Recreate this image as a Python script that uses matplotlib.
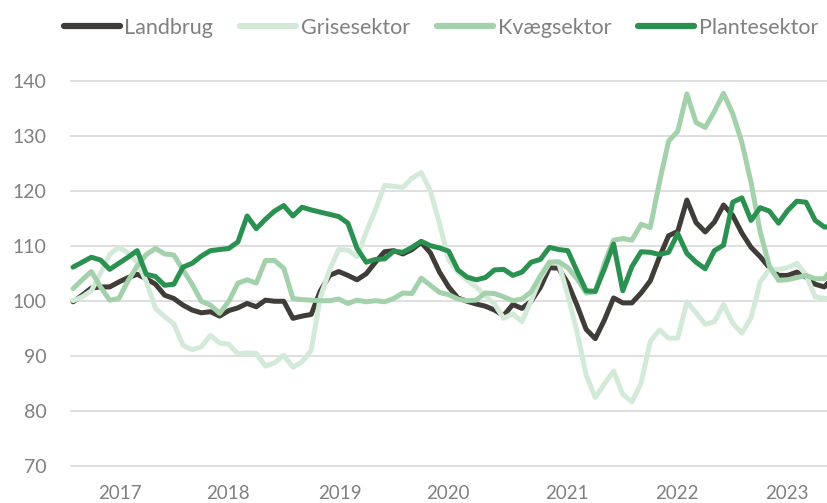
import numpy as np
import matplotlib
matplotlib.use("Agg")
from matplotlib import pyplot as plt

# Månedlige indeks, jan 2017 - dec 2023 (sidste punkt skæres af ved højre kant)
landbrug = [
    99.8, 101.0, 102.3, 102.5, 102.5, 103.4, 104.2, 104.8, 104.0, 103.0, 101.0, 100.4,
    99.2, 98.3, 97.8, 98.0, 97.2, 98.2, 98.7, 99.5, 98.9, 100.1, 99.9, 99.9,
    96.8, 97.2, 97.5, 101.8, 104.6, 105.3, 104.6, 103.8, 104.9, 107.0, 108.9, 109.1,
    108.5, 109.3, 110.6, 108.7, 105.2, 102.5, 100.5, 99.9, 99.4, 99.0, 98.3, 97.3,
    99.3, 98.6, 99.9, 102.4, 106.0, 105.9, 103.2, 99.2, 94.8, 93.1, 96.5, 100.5,
    99.6, 99.6, 101.4, 103.6, 107.9, 111.8, 112.6, 118.3, 114.2, 112.5, 114.3, 117.4,
    115.5, 112.3, 109.7, 108.0, 106.0, 104.6, 104.6, 105.2, 104.3, 103.0, 102.5, 104.3,
]
grisesektor = [
    100.0, 100.7, 101.8, 105.0, 108.4, 109.7, 108.7, 107.0, 103.5, 98.6, 97.1, 95.8,
    91.9, 91.1, 91.6, 93.7, 92.3, 92.1, 90.3, 90.5, 90.4, 88.1, 88.7, 90.1,
    87.9, 88.9, 91.0, 100.7, 105.6, 109.3, 109.2, 108.0, 112.5, 116.5, 121.0, 120.8,
    120.6, 122.3, 123.3, 120.0, 114.0, 107.4, 105.2, 103.7, 102.5, 100.9, 99.4, 96.8,
    97.6, 96.2, 100.0, 104.0, 106.9, 106.9, 101.0, 94.4, 86.5, 82.4, 84.9, 87.2,
    83.0, 81.6, 85.0, 92.6, 94.7, 93.2, 93.2, 99.8, 97.8, 95.7, 96.2, 99.3,
    95.9, 94.1, 96.9, 103.4, 105.7, 105.7, 106.0, 106.8, 104.7, 100.7, 100.4, 100.4,
]
kvaegsektor = [
    102.2, 103.8, 105.3, 102.5, 100.1, 100.4, 103.6, 106.3, 108.4, 109.5, 108.5, 108.3,
    105.6, 103.0, 99.9, 99.2, 97.7, 99.9, 103.2, 103.8, 103.2, 107.3, 107.3, 105.9,
    100.4, 100.2, 100.1, 100.0, 100.0, 100.3, 99.5, 100.1, 99.8, 100.0, 99.8, 100.4,
    101.4, 101.3, 104.1, 102.8, 101.5, 101.1, 100.3, 100.0, 100.1, 101.4, 101.3, 100.7,
    100.0, 100.3, 101.6, 104.5, 107.0, 107.1, 106.0, 104.0, 101.4, 101.6, 106.8, 111.0,
    111.3, 111.0, 113.9, 113.3, 121.5, 129.0, 130.8, 137.6, 132.4, 131.5, 134.4, 137.7,
    134.0, 128.8, 121.5, 112.5, 106.3, 103.7, 103.8, 104.2, 104.6, 104.0, 104.0, 106.3,
]
plantesektor = [
    106.1, 107.0, 107.9, 107.4, 105.7, 106.8, 107.9, 109.1, 104.8, 104.4, 102.8, 103.0,
    106.1, 106.8, 108.1, 109.1, 109.3, 109.5, 110.7, 115.4, 113.1, 114.8, 116.3, 117.3,
    115.4, 117.0, 116.5, 116.1, 115.7, 115.3, 114.1, 109.5, 107.0, 107.5, 107.6, 109.0,
    108.8, 109.7, 110.8, 110.0, 109.6, 109.0, 105.6, 104.3, 103.8, 104.2, 105.6, 105.7,
    104.6, 105.2, 107.0, 107.5, 109.7, 109.3, 109.1, 105.4, 101.8, 101.7, 105.8, 110.3,
    101.8, 106.2, 108.9, 108.8, 108.4, 108.8, 112.2, 108.6, 107.0, 105.8, 109.1, 110.1,
    117.9, 118.7, 114.6, 116.9, 116.3, 114.1, 116.4, 118.1, 117.9, 114.6, 113.4, 113.4,
]

years = ["2017", "2018", "2019", "2020", "2021", "2022", "2023"]
year_pos = [5.1, 16.9, 29.1, 40.9, 53.9, 65.9, 77.9]

series = {
    "Landbrug": (landbrug, "#403c38"),
    "Grisesektor": (grisesektor, "#d4ead8"),
    "Kvægsektor": (kvaegsektor, "#a3d1ab"),
    "Plantesektor": (plantesektor, "#2a9150"),
}

plt.rcParams["font.family"] = ["Lato", "DejaVu Sans"]
text_color = "#808080"

fig = plt.figure(figsize=(8.28, 5.03), dpi=100)
# akse fra x=70px til højre kant, y 70..140
ax = fig.add_axes([70 / 828, 36.2 / 503, 758 / 828, 387.2 / 503])

x = np.arange(len(landbrug))
for i, (name, (vals, color)) in enumerate(series.items()):
    ax.plot(x, vals, color=color, lw=3.6, label=name, zorder=3 + i,
            solid_joinstyle="round", solid_capstyle="round")

ax.set_xlim(-0.33, 82.4)
ax.set_ylim(69.8, 140.2)
ax.set_yticks(range(70, 141, 10))
ax.set_xticks(year_pos)
ax.set_xticklabels(years)
ax.grid(axis="y", color="#d9d9d9", lw=1.2, zorder=0)
ax.set_axisbelow(True)
for s in ax.spines.values():
    s.set_visible(False)
ax.tick_params(axis="y", length=0, pad=17, labelsize=14, labelcolor=text_color)
ax.tick_params(axis="x", length=0, pad=13, labelsize=13.5, labelcolor=text_color)

leg = fig.legend(loc="center", bbox_to_anchor=(441 / 828, 1 - 28 / 503), ncol=4,
                 frameon=False, fontsize=15.5, handlelength=2.6, handletextpad=0.22,
                 columnspacing=1.25, borderaxespad=0)
for t in leg.get_texts():
    t.set_color(text_color)
for h in leg.get_lines():
    h.set_linewidth(4.5)
    h.set_solid_capstyle("round")

fig.savefig("out.png", dpi=100)
